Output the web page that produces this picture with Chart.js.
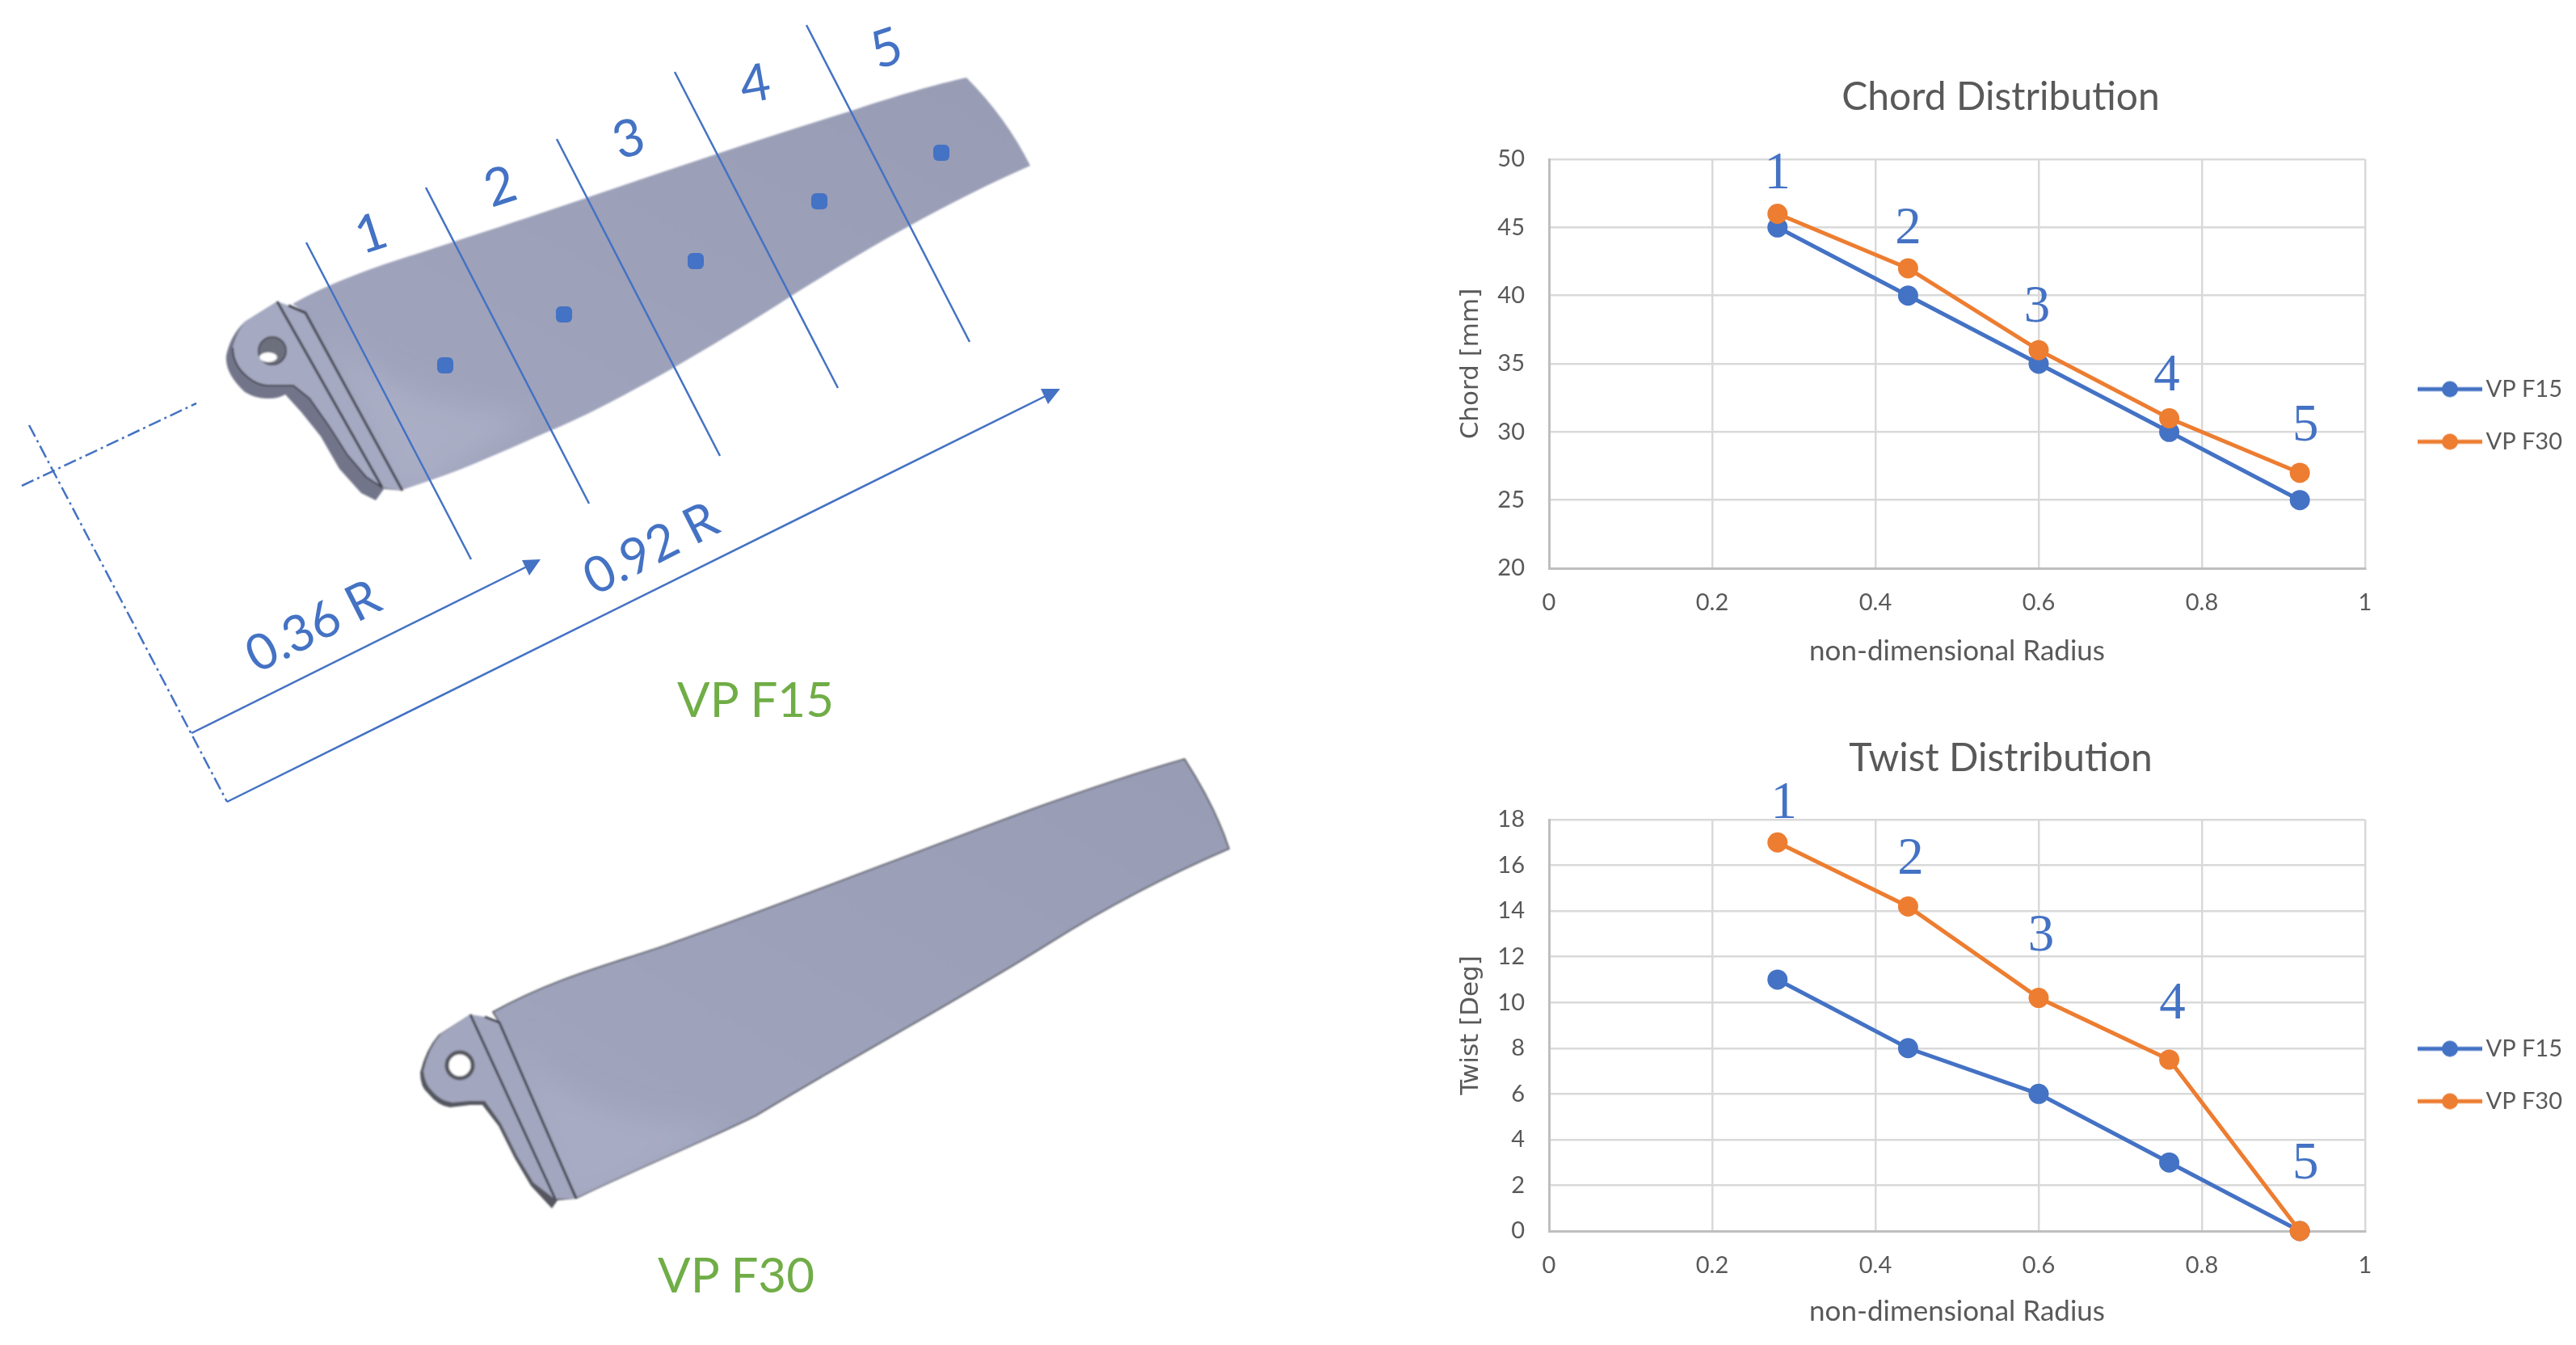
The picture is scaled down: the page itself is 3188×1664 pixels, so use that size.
<!DOCTYPE html>
<html>
<head>
<meta charset="utf-8">
<title>Chord and Twist Distribution</title>
<script src="https://cdn.jsdelivr.net/npm/chart.js@4"></script>
<style>
  html, body { margin: 0; background: #fff; }
  #page { position: relative; width: 3188px; height: 1664px; overflow: hidden; background: #fff; }
  #page canvas, #page svg { position: absolute; }
  #sketch { left: 0; top: 0; }
  #chord-chart { left: 1764px; top: 60px; }
  #twist-chart { left: 1764px; top: 880px; }
</style>
</head>
<body>
<div id="page">
  <!-- Blade illustrations: not data, just the picture on the left -->
  <svg id="sketch" width="1764" height="1664" viewBox="0 0 1764 1664" xmlns="http://www.w3.org/2000/svg">
    <defs>
      <linearGradient id="bladeFill" x1="0" y1="1" x2="1" y2="0">
        <stop offset="0" stop-color="#a1a5bd"/>
        <stop offset="0.45" stop-color="#9da1b9"/>
        <stop offset="1" stop-color="#989cb4"/>
      </linearGradient>
      <filter id="soft"><feGaussianBlur stdDeviation="0.9"/></filter>
      <filter id="wide"><feGaussianBlur stdDeviation="16"/></filter>
      <path id="edgeF15" d="M362,376 C430,338 500,320 571,296 C700,255 880,190 1054,137 C1110,118 1160,104 1196,96 Q1245,145 1275,205 C1195,240 1100,290 978,367 C880,430 760,500 683,532 C630,555 580,578 536,593 L495,607 L378,387 Z"/>
      <path id="edgeF30" d="M610,1252 C690,1208 760,1192 828,1168 C960,1122 1130,1055 1280,1000 C1350,975 1410,955 1466,939 Q1505,1000 1521,1050 C1440,1085 1370,1122 1300,1166 C1190,1235 1060,1305 936,1380 C880,1408 790,1445 714,1482 L618,1265 Z"/>
      <clipPath id="clipF15"><use href="#edgeF15"/></clipPath>
      <clipPath id="clipF30"><use href="#edgeF30"/></clipPath>
    </defs>

    <!-- VP F15 blade -->
    <g filter="url(#soft)">
      <path d="M343,373 L303,398 Q285,415 280,440 Q278,462 303,485 Q318,494 333,493 Q345,493 353,488 L373,510 L397,540 L420,580 L447,610 L465,619 L475,605 L498,607 L378,387 Z" fill="#72758a"/>
      <use href="#edgeF15" fill="url(#bladeFill)"/>
      <g clip-path="url(#clipF15)"><path d="M395,400 Q470,500 660,515 L530,600 L490,610 Z" fill="#a9adc5" filter="url(#wide)"/></g>
      <path d="M343,373 L303,398 Q292,413 288,430 Q288,452 307,467 Q318,476 330,477 L363,477 L383,493 L407,527 L430,563 L453,590 L473,603 L498,607 L378,387 L357,378 Z" fill="#a5a9c1"/>
      <path d="M288,430 Q288,452 307,467 Q318,476 330,477 L363,477 L383,493 L407,527 L430,563 L453,590 L473,603" fill="none" stroke="#3f414a" stroke-width="2"/>
      <path d="M343,373 L473,603" fill="none" stroke="#3f414a" stroke-width="3"/>
      <path d="M357,378 L378,387 L498,607" fill="none" stroke="#3f414a" stroke-width="3"/>
      <circle cx="337" cy="434" r="17" fill="#6c6f7d" stroke="#4a4c55" stroke-width="2"/>
      <ellipse cx="332" cy="442" rx="11" ry="6" fill="#fff"/>
    </g>

    <!-- Station lines and points on VP F15 -->
    <g stroke="#4472c4" stroke-width="2.5" fill="none">
      <path d="M379,300 L583,692"/>
      <path d="M527,232 L729,623"/>
      <path d="M689,172 L891,564"/>
      <path d="M835,89 L1037,480"/>
      <path d="M998,31 L1200,423"/>
      <path d="M237,907 L660,697"/>
      <path d="M281,992 L1300,487"/>
      <path d="M36,526 L281,992" stroke-dasharray="16 5 3 5"/>
      <path d="M27,601 L243,499" stroke-dasharray="16 5 3 5"/>
    </g>
    <g fill="#4472c4">
      <path d="M669,692 L646,693 L655,712 Z"/>
      <path d="M1312,481 L1288,481 L1297,500 Z"/>
      <rect x="541" y="442" width="20" height="20" rx="6"/>
      <rect x="688" y="379" width="20" height="20" rx="6"/>
      <rect x="851" y="313" width="20" height="20" rx="6"/>
      <rect x="1004" y="239" width="20" height="20" rx="6"/>
      <rect x="1155" y="179" width="20" height="20" rx="6"/>
    </g>
    <g fill="#4472c4" font-family="Lato" font-size="64" text-anchor="middle" dominant-baseline="central">
      <text transform="translate(458,286) rotate(-18)">1</text>
      <text transform="translate(618,228) rotate(-18)">2</text>
      <text transform="translate(777,169) rotate(-18)">3</text>
      <text transform="translate(934,101) rotate(-10)">4</text>
      <text transform="translate(1096,57) rotate(-18)">5</text>
      <text transform="translate(386,772) rotate(-27)" font-size="62">0.36 R</text>
      <text transform="translate(804,676) rotate(-27)" font-size="62">0.92 R</text>
    </g>
    <text x="935" y="864" fill="#70ad47" font-family="Lato" font-size="60" text-anchor="middle" dominant-baseline="central">VP F15</text>

    <!-- VP F30 blade -->
    <g filter="url(#soft)">
      <path d="M582,1255 L543,1280 Q527,1298 520,1327 Q520,1345 530,1353 Q542,1368 557,1370 L582,1367 L597,1367 L617,1393 L637,1433 L657,1467 L683,1495 L690,1485 L713,1483 L618,1265 Z" fill="#54565f"/>
      <use href="#edgeF30" fill="url(#bladeFill)" stroke="#4a4c55" stroke-width="1.6"/>
      <g clip-path="url(#clipF30)"><path d="M630,1280 Q700,1390 900,1395 L760,1470 L700,1490 Z" fill="#a7abc3" filter="url(#wide)"/></g>
      <path d="M582,1255 L546,1279 Q530,1297 524,1325 Q526,1342 535,1350 Q545,1362 560,1364 L582,1362 L600,1362 L620,1390 L640,1430 L660,1463 L686,1483 L713,1483 L618,1265 L600,1258 Z" fill="#a2a6be"/>
      <path d="M582,1255 L687,1483" fill="none" stroke="#3a3c44" stroke-width="2.8"/>
      <path d="M600,1258 L618,1265 L713,1483" fill="none" stroke="#3a3c44" stroke-width="2.8"/>
      <circle cx="569" cy="1318" r="16" fill="#fff" stroke="#55575f" stroke-width="5"/>
    </g>
    <text x="911" y="1576" fill="#70ad47" font-family="Lato" font-size="60" text-anchor="middle" dominant-baseline="central">VP F30</text>
  </svg>

  <canvas id="chord-chart" width="1424" height="800"></canvas>
  <canvas id="twist-chart" width="1424" height="784"></canvas>
</div>

<script>
// Values
const radius = [0.28, 0.44, 0.6, 0.76, 0.92];
const stations = ['1', '2', '3', '4', '5'];
const seriesNames = ['VP F15', 'VP F30'];
const chordF15 = [45, 40, 35, 30, 25];
const chordF30 = [46, 42, 36, 31, 27];
const twistF15 = [11, 8, 6, 3, 0];
const twistF30 = [17, 14.2, 10.2, 7.5, 0];

const BLUE = '#4472c4';
const ORANGE = '#ed7d31';
const TEXT = '#595959';
const GRID = '#d9d9d9';
const AXIS = '#bfbfbf';
const LEFT_MARGIN = 153;   // canvas edge to plot, same on both charts
const RIGHT_MARGIN = 261;

// Legend sample: a short line with the round marker on it
function legendSwatch(color) {
  const c = document.createElement('canvas');
  c.width = 80;
  c.height = 24;
  const ctx = c.getContext('2d');
  ctx.strokeStyle = color;
  ctx.lineWidth = 5;
  ctx.beginPath();
  ctx.moveTo(0, 12);
  ctx.lineTo(80, 12);
  ctx.stroke();
  ctx.fillStyle = color;
  ctx.beginPath();
  ctx.arc(40, 12, 10, 0, Math.PI * 2);
  ctx.fill();
  return c;
}

// Blue station numbers, placed relative to the VP F30 point of each station
const stationLabels = {
  id: 'stationLabels',
  afterDatasetsDraw(chart, args, opts) {
    const { ctx, scales } = chart;
    const top = chart.data.datasets[1].data;
    ctx.save();
    ctx.fillStyle = BLUE;
    ctx.font = '65px "Liberation Serif"';
    ctx.textAlign = 'center';
    ctx.textBaseline = 'middle';
    stations.forEach((s, i) => {
      const x = scales.x.getPixelForValue(top[i].x) + opts.offsets[i][0];
      const y = scales.y.getPixelForValue(top[i].y) + opts.offsets[i][1];
      ctx.fillText(s, x, y);
    });
    ctx.restore();
  },
};

// Legend sits off to the right of the plot and the title is centred on the
// whole canvas, not on the plot, so move both after layout
const boxPlacer = {
  id: 'boxPlacer',
  afterLayout(chart, args, opts) {
    const lg = chart.legend;
    lg.left = opts.left;
    lg.top = opts.top;
    lg.right = chart.width;
    lg.bottom = chart.height;
    chart.titleBlock.left = 0;
    chart.titleBlock.right = chart.width;
  },
};

function makeChart(id, cfg) {
  const points = (values) => values.map((v, i) => ({ x: radius[i], y: v }));
  const dataset = (label, values, color, order) => ({
    label,
    data: points(values),
    borderColor: color,
    backgroundColor: color,
    borderWidth: 5,
    pointRadius: 10,
    pointHoverRadius: 10,
    pointStyle: 'circle',
    showLine: true,
    clip: false,
    order,
  });

  return new Chart(document.getElementById(id), {
    type: 'scatter',
    data: {
      datasets: [
        dataset(seriesNames[0], cfg.f15, BLUE, 2),
        dataset(seriesNames[1], cfg.f30, ORANGE, 1),
      ],
    },
    plugins: [stationLabels, boxPlacer],
    options: {
      responsive: false,
      animation: false,
      devicePixelRatio: 1,
      layout: { padding: { left: 0, right: RIGHT_MARGIN, top: 0, bottom: 0 } },
      plugins: {
        tooltip: { enabled: false },
        title: {
          display: true,
          text: cfg.title,
          color: TEXT,
          font: { family: 'Lato', size: 48, weight: 'normal' },
          padding: cfg.titlePadding,
        },
        legend: {
          position: 'chartArea',
          align: 'start',
          labels: {
            color: TEXT,
            font: { family: 'Lato', size: 29 },
            padding: 36,
            usePointStyle: true,
            pointStyleWidth: 60,
            sort: (a, b) => a.datasetIndex - b.datasetIndex,
            generateLabels(chart) {
              return Chart.defaults.plugins.legend.labels.generateLabels(chart).map((item) => ({
                ...item,
                pointStyle: legendSwatch(item.datasetIndex === 0 ? BLUE : ORANGE),
              }));
            },
          },
        },
        stationLabels: { offsets: cfg.labelOffsets },
        boxPlacer: { left: 1202, top: cfg.legendTop },
      },
      scales: {
        x: {
          type: 'linear',
          min: 0,
          max: 1,
          afterFit(scale) { scale.height = cfg.xAxisHeight; },
          ticks: {
            stepSize: 0.2,
            color: TEXT,
            font: { family: 'Lato', size: 29 },
            padding: 25,
            maxRotation: 0,
            callback: (v) => String(Number(v.toFixed(1))),
          },
          grid: { color: GRID, lineWidth: 2.5, drawTicks: false },
          border: { color: AXIS, width: 3 },
          title: {
            display: true,
            text: 'non-dimensional Radius',
            color: TEXT,
            font: { family: 'Lato', size: 35 },
            padding: { top: 0, bottom: cfg.xTitleBottom },
          },
        },
        y: {
          type: 'linear',
          min: cfg.yMin,
          max: cfg.yMax,
          afterFit(scale) { scale.width = LEFT_MARGIN; },
          ticks: { stepSize: cfg.yStep, color: TEXT, font: { family: 'Lato', size: 29 }, padding: 30 },
          grid: { color: GRID, lineWidth: 2.5, drawTicks: false },
          border: { color: AXIS, width: 3 },
          title: {
            display: true,
            text: cfg.yTitle,
            color: TEXT,
            font: { family: 'DejaVu Sans', size: 31 },
            padding: { top: 38, bottom: 0 },
          },
        },
      },
    },
  });
}

makeChart('chord-chart', {
  title: 'Chord Distribution',
  titlePadding: { top: 32, bottom: 47.4 },
  f15: chordF15,
  f30: chordF30,
  yMin: 20,
  yMax: 50,
  yStep: 5,
  yTitle: 'Chord [mm]',
  xAxisHeight: 157,
  xTitleBottom: 33,
  legendTop: 371,
  labelOffsets: [[0, -49], [0, -48], [-2, -52], [-3, -52], [7, -57]],
});

makeChart('twist-chart', {
  title: 'Twist Distribution',
  titlePadding: { top: 30.2, bottom: 46.2 },
  f15: twistF15,
  f30: twistF30,
  yMin: 0,
  yMax: 18,
  yStep: 2,
  yTitle: 'Twist [Deg]',
  xAxisHeight: 141,
  xTitleBottom: 20,
  legendTop: 367,
  labelOffsets: [[8, -47], [3, -58], [3, -76], [4, -68], [7, -82]],
});
</script>
</body>
</html>
